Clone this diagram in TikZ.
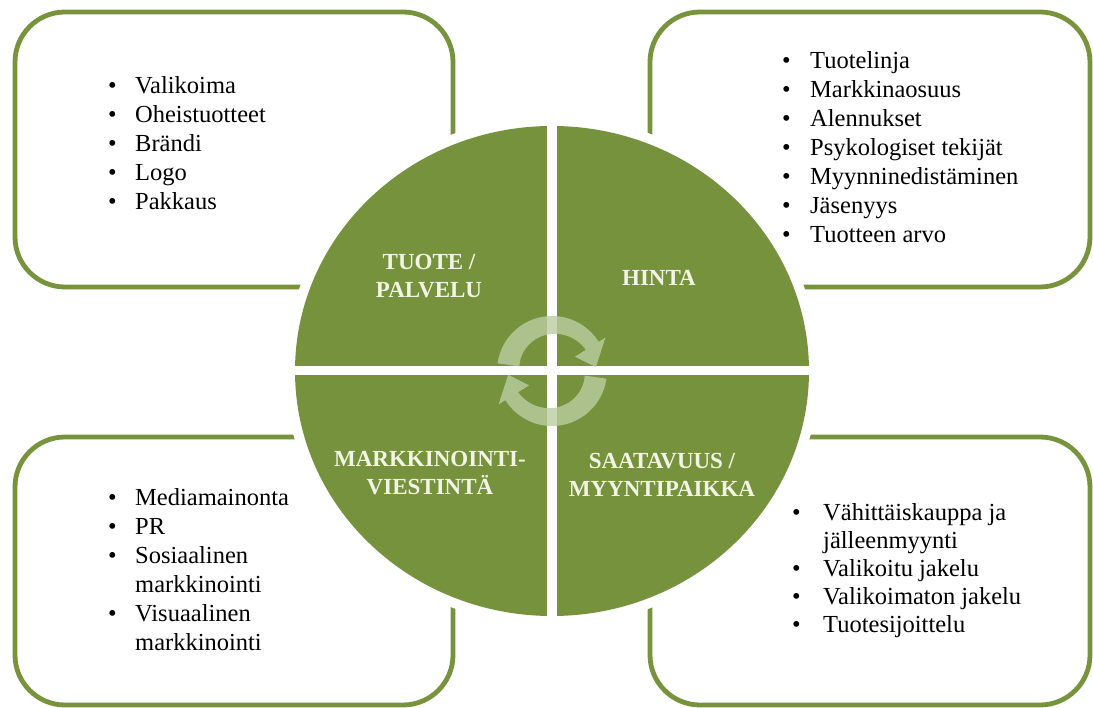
\documentclass[tikz,border=0pt]{standalone}
\usepackage{fontspec}
\setmainfont{Liberation Serif}
\usepackage{array}
\definecolor{olivefill}{HTML}{76923C}
\definecolor{boxline}{HTML}{77933C}
\definecolor{labeltxt}{HTML}{F2F5E4}
\definecolor{arrowc}{HTML}{BBCDA0}
\tikzset{
  infobox/.style={draw=boxline, line width=4.8pt, rounded corners=50pt, fill=white},
  listnode/.style={anchor=north west, inner sep=0pt, font=\fontsize{24.5}{29}\selectfont},
  listnodeb/.style={anchor=north west, inner sep=0pt, font=\fontsize{24.5}{28}\selectfont},
  quadlabel/.style={text=labeltxt, font=\bfseries\fontsize{23}{28}\selectfont, align=center, inner sep=0pt},
  cyclearrow/.style={fill=arrowc, opacity=0.8, draw=none},
}
\begin{document}
\begin{tikzpicture}[x=1pt,y=-1pt]
\useasboundingbox (0,0) rectangle (1093,708);
% boxes
\draw[infobox] (15,12) rectangle (453,287);
\draw[infobox] (650,12) rectangle (1090,287);
\draw[infobox] (15,437) rectangle (453,705);
\draw[infobox] (650,437) rectangle (1090,705);
% circle
\fill[white] (552,371) ellipse [x radius=267, y radius=255];
\fill[olivefill] (552,371) ellipse [x radius=257, y radius=245];
\fill[white] (547,110) rectangle (557,630);
\fill[white] (290,366.5) rectangle (815,375.5);
% cycle arrows
\begin{scope}[shift={(552,371)}]
  \fill[cyclearrow] (188:55) arc[start angle=188, end angle=328, radius=55]
     -- (328:63) -- (355:44) -- (328:27) --
     plot[domain=328:188, samples=30] ({\x}:{33+7*(\x-188)/140}) -- cycle;
  \fill[cyclearrow] (8:55) arc[start angle=8, end angle=148, radius=55]
     -- (148:63) -- (175:44) -- (148:27) --
     plot[domain=148:8, samples=30] ({\x}:{33+7*(\x-8)/140}) -- cycle;
\end{scope}
% quadrant labels
\node[quadlabel] (tuote) at (429,276) {TUOTE /\\PALVELU};
\node[quadlabel] (hinta) at (659,278) {HINTA};
\node[quadlabel] (markk) at (430,473) {MARKKINOINTI-\\VIESTINTÄ};
\node[quadlabel] (saat) at (662,475) {SAATAVUUS /\\MYYNTIPAIKKA};
% lists
\node[listnode] (l1) at (108,72.7) {\begin{tabular}{@{}p{27pt}@{}l@{}}
• & Valikoima\\
• & Oheistuotteet\\
• & Brändi\\
• & Logo\\
• & Pakkaus
\end{tabular}};
\node[listnode] (l2) at (782,47.7) {\begin{tabular}{@{}p{28pt}@{}l@{}}
• & Tuotelinja\\
• & Markkinaosuus\\
• & Alennukset\\
• & Psykologiset tekijät\\
• & Myynninedistäminen\\
• & Jäsenyys\\
• & Tuotteen arvo
\end{tabular}};
\node[listnode] (l3) at (108,484.7) {\begin{tabular}{@{}p{27pt}@{}l@{}}
• & Mediamainonta\\
• & PR\\
• & Sosiaalinen\\
  & markkinointi\\
• & Visuaalinen\\
  & markkinointi
\end{tabular}};
\node[listnodeb] (l4) at (792,500.4) {\begin{tabular}{@{}p{31pt}@{}l@{}}
• & Vähittäiskauppa ja\\
  & jälleenmyynti\\
• & Valikoitu jakelu\\
• & Valikoimaton jakelu\\
• & Tuotesijoittelu
\end{tabular}};
\end{tikzpicture}
\end{document}
